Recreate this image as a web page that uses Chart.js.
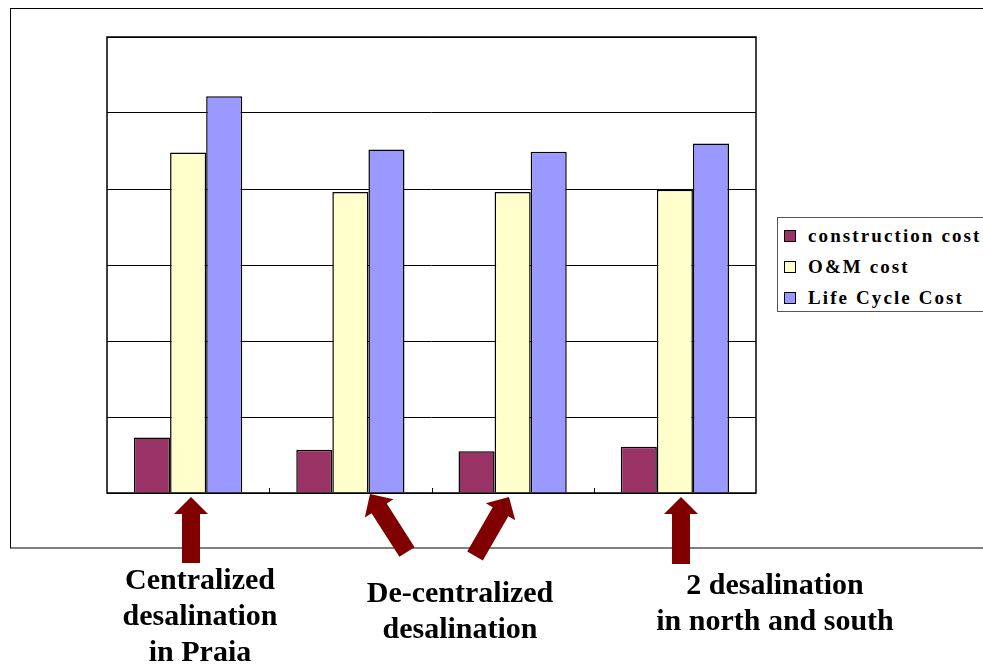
<!DOCTYPE html>
<html>
<head>
<meta charset="utf-8">
<script src="https://cdn.jsdelivr.net/npm/chart.js@4.4.1/dist/chart.umd.min.js"></script>
<style>
  html, body { margin: 0; padding: 0; background: #fff; }
  #wrap { position: relative; width: 983px; height: 666px; overflow: hidden; }
  canvas { position: absolute; left: 0; top: 0; }
  .legend { position: absolute; left: 777px; top: 217px; width: 230px; height: 95px;
            border: 1px solid #555; background: #fff; box-sizing: border-box;
            font-family: "Liberation Serif", "Times New Roman", serif; font-weight: bold;
            font-size: 19px; letter-spacing: 2.1px; }
  .legend .item { position: absolute; left: 6px; height: 20px; line-height: 20px; white-space: nowrap; }
  .legend .sw { display: inline-block; width: 10px; height: 10px; border: 1px solid #000;
                vertical-align: middle; margin-right: 12px; margin-top: -3px; letter-spacing: 0; }
  .note { position: absolute; font-family: "Liberation Serif", "Times New Roman", serif;
          font-weight: bold; font-size: 30px; line-height: 36px; text-align: center; color: #000;
          white-space: nowrap; transform: translateX(-50%); }
</style>
</head>
<body>
<div id="wrap">
  <canvas id="c" width="983" height="666"></canvas>
  <div class="legend" id="legend"></div>
  <div class="note" style="left:200px; top:561px;">Centralized<br>desalination<br>in Praia</div>
  <div class="note" style="left:460px; top:574px;">De-centralized<br>desalination</div>
  <div class="note" style="left:775px; top:566px;">2 desalination<br>in north and south</div>
</div>
<script>
const categories = ["Centralized desalination in Praia", "De-centralized desalination", "De-centralized desalination (2)", "2 desalination in north and south"];
const seriesNames = ["construction cost", "O&M cost", "Life Cycle Cost"];
const constructionCost = [0.73, 0.57, 0.55, 0.61];
const omCost = [4.48, 3.96, 3.96, 3.99];
const lifeCycleCost = [5.22, 4.52, 4.49, 4.60];
const yTicks = [0, 1, 2, 3, 4, 5, 6];
const colors = ["#993366", "#FFFFCC", "#9999FF"];

// legend (HTML)
const legendEl = document.getElementById('legend');
seriesNames.forEach((n, i) => {
  const d = document.createElement('div');
  d.className = 'item';
  d.style.top = (8 + i * 31) + 'px';
  d.innerHTML = '<span class="sw" style="background:' + colors[i] + '"></span>' + n.replace('&', '&amp;');
  legendEl.appendChild(d);
});

const framePlugin = {
  id: 'frame',
  beforeDraw(chart) {
    const ctx = chart.ctx;
    ctx.save();
    ctx.strokeStyle = '#000';
    ctx.lineWidth = 1;
    ctx.strokeRect(10.5, 8.5, 1100, 539.5);
    ctx.restore();
  },
  afterDraw(chart) {
    const ctx = chart.ctx;
    const a = chart.chartArea;
    ctx.save();
    // plot border
    ctx.strokeStyle = '#000';
    ctx.lineWidth = 1.5;
    ctx.strokeRect(a.left, a.top, a.right - a.left, a.bottom - a.top);
    // inward category-boundary ticks on x axis
    ctx.lineWidth = 1;
    const step = (a.right - a.left) / categories.length;
    for (let i = 1; i < categories.length; i++) {
      const px = Math.round(a.left + step * i) + 0.5;
      ctx.beginPath(); ctx.moveTo(px, a.bottom); ctx.lineTo(px, a.bottom - 5); ctx.stroke();
    }
    // arrows (annotations)
    const arrows = [
      [191, 563, 191, 497],
      [407, 552, 370, 494],
      [475, 556, 509, 497],
      [681, 564, 681, 497]
    ];
    ctx.fillStyle = '#800000';
    arrows.forEach(([x0, y0, x1, y1]) => {
      const dx = x1 - x0, dy = y1 - y0;
      const L = Math.hypot(dx, dy);
      const ux = dx / L, uy = dy / L;
      const nx = -uy, ny = ux;
      const hl = 17, hw = 17, sw = 9;
      const bx = x1 - ux * hl, by = y1 - uy * hl;
      ctx.beginPath();
      ctx.moveTo(x0 + nx * sw, y0 + ny * sw);
      ctx.lineTo(bx + nx * sw, by + ny * sw);
      ctx.lineTo(bx + nx * hw, by + ny * hw);
      ctx.lineTo(x1, y1);
      ctx.lineTo(bx - nx * hw, by - ny * hw);
      ctx.lineTo(bx - nx * sw, by - ny * sw);
      ctx.lineTo(x0 - nx * sw, y0 - ny * sw);
      ctx.closePath();
      ctx.fill();
    });
    ctx.restore();
  }
};

new Chart(document.getElementById('c'), {
  type: 'bar',
  data: {
    labels: categories,
    datasets: [
      { label: seriesNames[0], data: constructionCost, backgroundColor: colors[0] },
      { label: seriesNames[1], data: omCost, backgroundColor: colors[1] },
      { label: seriesNames[2], data: lifeCycleCost, backgroundColor: colors[2] }
    ].map(d => Object.assign(d, { borderColor: '#000', borderWidth: 1.5, categoryPercentage: 0.667, barPercentage: 1.0 }))
  },
  options: {
    responsive: false,
    animation: false,
    layout: { padding: { left: 107, top: 37, right: 227, bottom: 165 } },
    plugins: { legend: { display: false }, tooltip: { enabled: false } },
    scales: {
      x: {
        ticks: { display: false },
        grid: { display: false },
        border: { display: false }
      },
      y: {
        min: 0, max: 6,
        afterBuildTicks: (s) => { s.ticks = yTicks.map(v => ({ value: v })); },
        ticks: { display: false },
        grid: { color: '#000', lineWidth: 1, drawTicks: false },
        border: { display: false }
      }
    }
  },
  plugins: [framePlugin]
});
</script>
</body>
</html>
